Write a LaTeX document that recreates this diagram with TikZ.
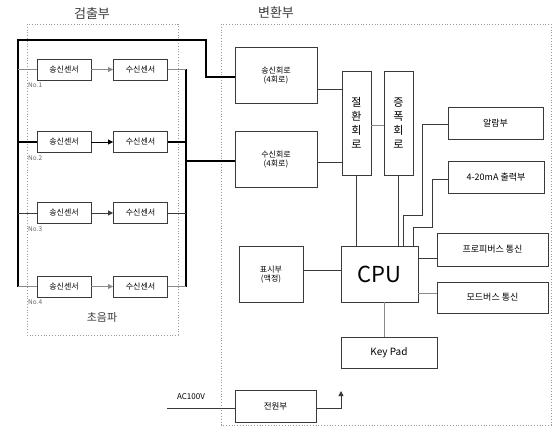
\documentclass[tikz,border=0pt]{standalone}
\usepackage{fontspec}
\setmainfont{Noto Sans CJK KR}
\usetikzlibrary{arrows.meta}
\definecolor{boxc}{HTML}{3A3A3A}
\definecolor{wireg}{HTML}{8A8A8A}
\definecolor{dotc}{HTML}{9A9A9A}
\begin{document}
\begin{tikzpicture}[x=1pt,y=-1pt,
  box/.style={draw=boxc, line width=0.9pt, fill=white, inner sep=0pt, align=center, text=black, font=\fontsize{8}{9}\selectfont},
  sbox/.style={box, minimum width=54pt, minimum height=21pt, font=\fontsize{8}{8}\selectfont},
  vbox/.style={box, minimum width=29pt, minimum height=104pt, font=\fontsize{11}{14}\selectfont},
  rbox/.style={box, minimum width=96pt, minimum height=32pt, font=\fontsize{9}{10}\selectfont},
  frame/.style={draw=dotc, line width=0.8pt, dotted},
  bus/.style={line width=1.8pt, black},
  wire/.style={line width=0.8pt, boxc},
  gwire/.style={line width=0.8pt, wireg},
  arr/.style={-{Triangle[length=5pt,width=5pt]}},
  nolab/.style={anchor=west, text=boxc!80, font=\fontsize{6.5}{7}\selectfont, inner sep=0pt},
  title/.style={font=\fontsize{13}{14}\selectfont, text=boxc, inner sep=0pt}
]
\useasboundingbox (0,0) rectangle (553,427);

% frames
\draw[frame] (27,24) rectangle (178,335);
\draw[frame] (221,24) rectangle (551,425);
\node[title] (t1) at (92,14) {검출부};
\node[title] (t2) at (276,13) {변환부};
\node[font=\fontsize{11}{12}\selectfont, text=boxc, inner sep=0pt] (t3) at (102,317) {초음파};

% sensors
\foreach \i/\y in {1/69.5,2/142,3/213,4/286.5}{
  \node[sbox] (s\i) at (64,\y) {송신센서};
  \node[sbox] (r\i) at (140.5,\y) {수신센서};
  \node[nolab] (n\i) at (28,\y+16) {No.\i};
}
\draw[gwire, arr] (s1) -- (r1);
\draw[wire, arr, black] (s2) -- (r2);
\draw[wire, arr] (s3) -- (r3);
\draw[gwire, arr] (s4) -- (r4);

% conversion boxes
\node[box, minimum width=82pt, minimum height=56pt] (tx) at (276,75) {송신회로\\(4회로)};
\node[box, minimum width=82pt, minimum height=56pt] (rx) at (276,159) {수신회로\\(4회로)};
\node[vbox] (sw) at (356.5,123) {절\\환\\회\\로};
\node[vbox] (amp) at (398.5,123) {증\\폭\\회\\로};
\node[box, minimum width=77pt, minimum height=56pt, font=\fontsize{22}{24}\selectfont] (cpu) at (379.5,274) {CPU};
\node[box, minimum width=64pt, minimum height=56pt] (disp) at (271,274) {표시부\\(액정)};
\node[box, minimum width=96pt, minimum height=31pt, font=\fontsize{10}{11}\selectfont] (kp) at (389,352.5) {Key Pad};
\node[rbox, minimum width=95pt, minimum height=32pt] (al) at (495.5,123) {알람부};
\node[rbox, minimum width=96pt, minimum height=32pt] (ma) at (496,177) {4-20mA 출력부};
\node[rbox, minimum width=111pt, minimum height=33pt] (pb) at (492.5,249.5) {프로피버스 통신};
\node[rbox, minimum width=111pt, minimum height=31pt] (mb) at (492.5,297.5) {모드버스 통신};
\node[box, minimum width=81pt, minimum height=32pt, font=\fontsize{8.5}{9}\selectfont] (pw) at (275.5,406) {전원부};

% helper coordinates
\coordinate (lx) at (18,0);
\coordinate (rbx) at (186,0);
\coordinate (topL) at (18,40);
\coordinate (topM) at (206,40);
\coordinate (stepY) at (0,77);
\coordinate (botL) at (18,287);
\coordinate (rtop) at (186,69.5);
\coordinate (rbot) at (186,287);
\coordinate (rxy) at (0,161);
\coordinate (y89) at (0,89);
\coordinate (y162) at (0,162);
\coordinate (y125) at (0,125);
\coordinate (x403) at (403,0);
\coordinate (x413) at (413,0);
\coordinate (a1) at (403,215);
\coordinate (a2) at (422,215);
\coordinate (a3) at (422,124);
\coordinate (m1) at (413,227);
\coordinate (m2) at (432,227);
\coordinate (m3) at (432,179);
\coordinate (y258) at (0,258);
\coordinate (y293) at (0,293);
\coordinate (y270) at (0,270);
\coordinate (x384) at (384,0);
\coordinate (ac) at (167,408);
\coordinate (y408) at (0,408);
\coordinate (pout) at (341,408);
\coordinate (ptip) at (341,391);

% left bus
\draw[bus] (botL) -- (topL) -- (topM) -- (topM |- stepY) -- (tx.west |- stepY);
\draw[gwire] (s1.west -| lx) -- (s1.west);
\draw[wire, black, line width=1.1pt] (s2.west -| lx) -- (s2.west);
\draw[wire] (s3.west -| lx) -- (s3.west);
\draw[gwire] (s4.west -| lx) -- (s4.west);

% right bus
\draw[bus] (rtop) -- (rbot);
\draw[bus] (rbx |- rxy) -- (rx.west |- rxy);
\draw[gwire] (r1.east) -- (r1.east -| rbx);
\draw[wire, black, line width=1.1pt] (r2.east) -- (r2.east -| rbx);
\draw[wire] (r3.east) -- (r3.east -| rbx);
\draw[gwire] (r4.east) -- (r4.east -| rbx);

% conversion wiring
\draw[wire] (tx.east |- y89) -- (sw.west |- y89);
\draw[wire] (rx.east |- y162) -- (sw.west |- y162);
\draw[gwire] (sw.east |- y125) -- (amp.west |- y125);
\draw[wire] (sw.south) -- (sw.south |- cpu.north);
\draw[wire] (amp.south) -- (amp.south |- cpu.north);
\draw[wire] (cpu.north -| x403) -- (a1) -- (a2) -- (a3) -- (al.west |- a3);
\draw[wire] (cpu.north -| x413) -- (m1) -- (m2) -- (m3) -- (ma.west |- m3);
\draw[wire] (cpu.east |- y258) -- (pb.west |- y258);
\draw[gwire] (cpu.east |- y293) -- (mb.west |- y293);
\draw[wire] (disp.east |- y270) -- (cpu.west |- y270);
\draw[gwire] (cpu.south -| x384) -- (kp.north -| x384);

% power
\draw[wire] (ac) -- (pw.west |- ac);
\node[anchor=south, font=\fontsize{8}{9}\selectfont, text=black, inner sep=1pt] (acl) at (191,401) {AC100V};
\draw[wire, arr] (pw.east |- y408) -- (pout) -- (ptip);
\end{tikzpicture}
\end{document}
